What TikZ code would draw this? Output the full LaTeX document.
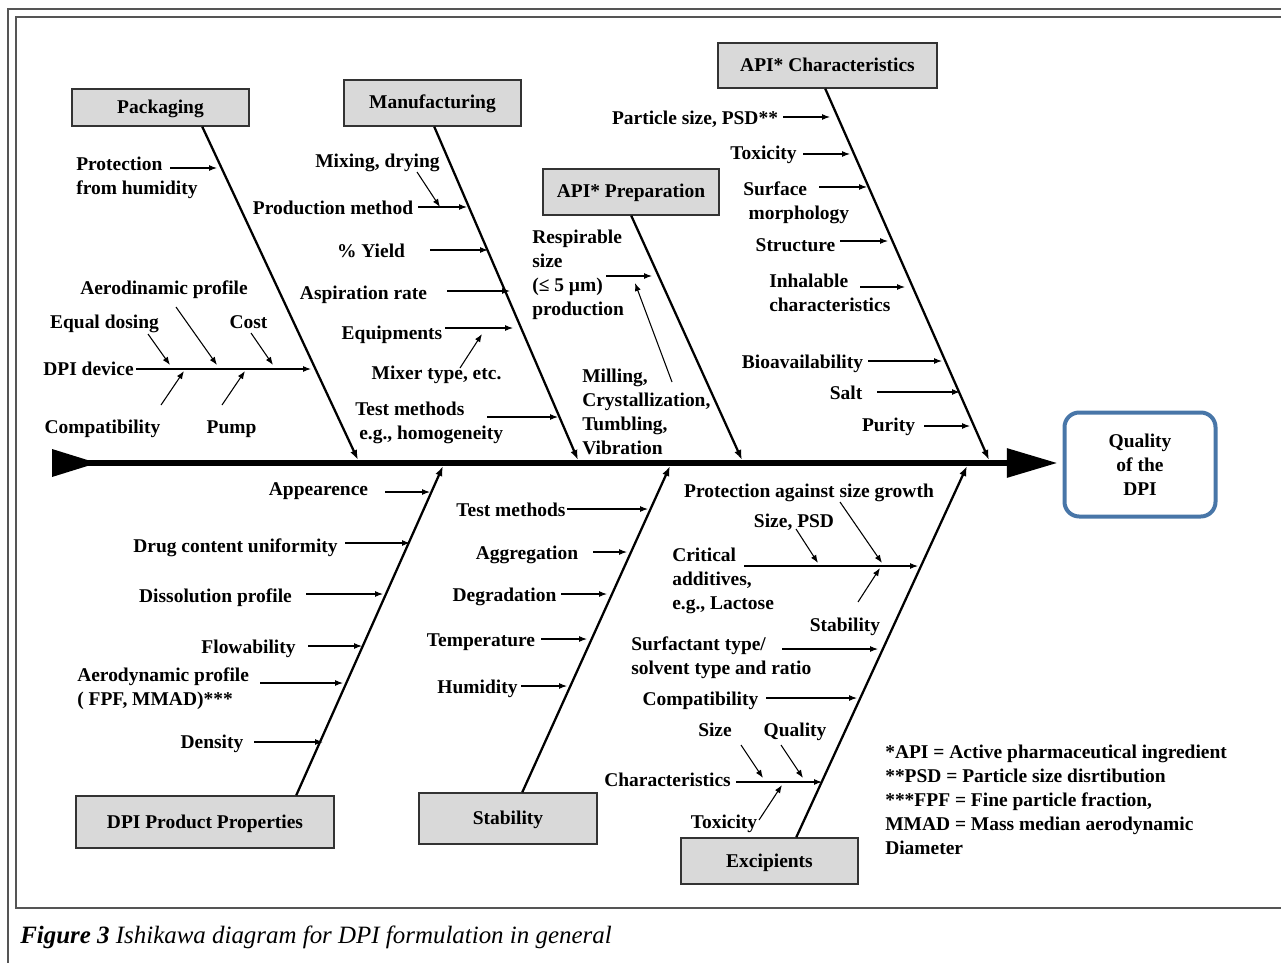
\documentclass[tikz,border=0pt]{standalone}
\usepackage{fontspec}
\setmainfont{Liberation Serif}
\usetikzlibrary{arrows.meta,calc}
\definecolor{boxgray}{RGB}{217,217,217}
\definecolor{qblue}{RGB}{72,118,168}
\definecolor{framegray}{RGB}{85,85,85}
\newcommand\subarrow[3]{\coordinate (#1s) at (#2); \coordinate (#1e) at (#3); \draw[sub] (#1s) -- (#1e);}
\begin{document}
\begin{tikzpicture}[x=0.75pt,y=-0.75pt,
  lbl/.style={font=\bfseries\fontsize{14.6pt}{18pt}\selectfont, inner sep=0pt, yshift=-5.6pt},
  lblc/.style={lbl, anchor=base},
  lbll/.style={lbl, anchor=base west, align=left},
  catbox/.style={draw=black!80, line width=1.1pt, fill=boxgray, font=\bfseries\fontsize{14.6pt}{18pt}\selectfont, inner sep=0pt, text height=9pt, text depth=0pt},
  qbox/.style={draw=qblue, line width=3pt, rounded corners=11pt, align=center, inner sep=0pt, font=\bfseries\fontsize{14.6pt}{18pt}\selectfont},
  sub/.style={line width=0.8pt, -{Latex[length=6pt,width=4.5pt]}},
  bone/.style={line width=1.7pt, -{Latex[length=7.5pt,width=5.5pt]}},
  spine/.style={line width=4.5pt, -{Triangle[length=38pt,width=21pt]}},
  frame/.style={draw=framegray, line width=1.2pt}]
\useasboundingbox (0,0) rectangle (1281,963);
% frames
\draw[frame] (8,963) -- (8,9) -- (1281,9);
\draw[frame] (1281,908) -- (16,908) -- (16,17) -- (1281,17);

% category boxes
\node[catbox, minimum width=177*0.75pt, minimum height=37*0.75pt] (pack) at (160.5,107.5) {Packaging};
\node[catbox, minimum width=177*0.75pt, minimum height=46*0.75pt] (manu) at (432.5,103) {Manufacturing};
\node[catbox, minimum width=219*0.75pt, minimum height=45*0.75pt] (char) at (827.5,65.5) {API* Characteristics};
\node[catbox, minimum width=176*0.75pt, minimum height=46*0.75pt] (prep) at (631,192) {API* Preparation};
\node[catbox, minimum width=258*0.75pt, minimum height=52*0.75pt] (dpip) at (205,822) {DPI Product Properties};
\node[catbox, minimum width=178*0.75pt, minimum height=51*0.75pt] (stab) at (508,818.5) {Stability};
\node[catbox, minimum width=177*0.75pt, minimum height=46*0.75pt] (exc) at (769.5,861) {Excipients};
\node[qbox, minimum width=151*0.75pt, minimum height=104*0.75pt] (q) at (1140,464.5) {Quality\\of the\\DPI};

% spine
\coordinate (tail) at (52,463);
\fill (52,449) -- (97,463) -- (52,477) -- cycle;
\draw[spine, shorten >=3.75pt] (tail) -- (tail -| q.west);

% branch ends on spine
\coordinate (bPack) at (358,460);
\coordinate (bManu) at (578,460);
\coordinate (bPrep) at (742,460);
\coordinate (bChar) at (989,460);
\coordinate (bDPI) at (443,466);
\coordinate (bStab) at (670,466);
\coordinate (bExc) at (967,466);
\draw[bone] ($(pack.south west)+(131,0)$) -- (bPack);
\draw[bone] ($(manu.south west)+(91,0)$) -- (bManu);
\draw[bone] ($(prep.south west)+(89,0)$) -- (bPrep);
\draw[bone] ($(char.south west)+(108,0)$) -- (bChar);
\draw[bone] ($(dpip.north west)+(221,0)$) -- (bDPI);
\draw[bone] ($(stab.north west)+(104,0)$) -- (bStab);
\draw[bone] ($(exc.north west)+(116,0)$) -- (bExc);

% Packaging
\node[lbll] (prot) at (76,187) {Protection\\from humidity};
\node[lblc] (aero) at (164,287) {Aerodinamic profile};
\node[lblc] (eqd) at (104.5,321) {Equal dosing};
\node[lblc] (cost) at (248.5,321) {Cost};
\node[lblc] (dpidev) at (88.5,368) {DPI device};
\node[lblc] (compat) at (102.5,426) {Compatibility};
\node[lblc] (pump) at (231.5,426) {Pump};
\subarrow{a1}{170,168}{217,168}
\subarrow{dd}{136,369}{311,369}
\subarrow{a2}{148,334}{170,365}
\subarrow{a3}{176,307}{217,365}
\subarrow{a4}{251,333}{273,365}
\subarrow{a5}{161,405}{184,371}
\subarrow{a6}{222,405}{245,371}

% Manufacturing
\node[lblc] (mix) at (377.5,160) {Mixing, drying};
\node[lblc] (prod) at (333,207) {Production method};
\node[lblc] (yield) at (371,250) {\% Yield};
\node[lblc] (asp) at (363.5,292) {Aspiration rate};
\node[lblc] (equip) at (392,332) {Equipments};
\node[lblc] (mixer) at (436.5,372) {Mixer type, etc.};
\node[lbll] (testm) at (355,432) {Test methods\\\hspace{3pt}e.g., homogeneity};
\subarrow{m1}{417,172}{440,207}
\subarrow{m2}{418,207}{467,207}
\subarrow{m3}{430,250}{488,250}
\subarrow{m4}{447,291}{510,291}
\subarrow{m5}{445,328}{513,328}
\subarrow{m6}{460,368}{482,334}
\subarrow{m7}{487,417}{558,417}

% API Preparation
\node[lbll] (resp) at (532,308) {Respirable\\size\\(≤ 5 µm)\\production};
\node[lbll] (mill) at (582,447) {Milling,\\Crystallization,\\Tumbling,\\Vibration};
\subarrow{p1}{606,276}{652,276}
\subarrow{p2}{672,382}{635,283}

% API Characteristics
\node[lblc] (psize) at (695,117) {Particle size, PSD**};
\node[lblc] (tox) at (763.5,152) {Toxicity};
\node[lbll] (surf) at (743,212) {Surface\\\hspace{4pt}morphology};
\node[lblc] (struct) at (795.5,244) {Structure};
\node[lbll] (inhal) at (769,304) {Inhalable\\characteristics};
\node[lblc] (bio) at (802.5,361) {Bioavailability};
\node[lblc] (salt) at (846,392) {Salt};
\node[lblc] (pur) at (888.5,424) {Purity};
\subarrow{c1}{783,117}{830,117}
\subarrow{c2}{803,154}{850,154}
\subarrow{c3}{819,187}{867,187}
\subarrow{c4}{840,241}{888,241}
\subarrow{c5}{860,287}{905,287}
\subarrow{c6}{868,361}{942,361}
\subarrow{c7}{877,392}{960,392}
\subarrow{c8}{924,426}{970,426}

% DPI Product Properties
\node[lblc] (app) at (318.5,488) {Appearence};
\node[lblc] (drug) at (235.5,545) {Drug content uniformity};
\node[lblc] (diss) at (215.5,595) {Dissolution profile};
\node[lblc] (flow) at (248.5,646) {Flowability};
\node[lbll] (aerop) at (77,698) {Aerodynamic profile\\( FPF, MMAD)***};
\node[lblc] (dens) at (212,741) {Density};
\subarrow{d1}{385,492}{430,492}
\subarrow{d2}{345,543}{410,543}
\subarrow{d3}{306,594}{383,594}
\subarrow{d4}{308,646}{362,646}
\subarrow{d5}{260,683}{343,683}
\subarrow{d6}{254,742}{323,742}

% Stability
\node[lblc] (stest) at (511,509) {Test methods};
\node[lblc] (aggr) at (527,552) {Aggregation};
\node[lblc] (degr) at (504.5,594) {Degradation};
\node[lblc] (temp) at (481,639) {Temperature};
\node[lblc] (hum) at (477.5,686) {Humidity};
\subarrow{s1}{567,509}{648,509}
\subarrow{s2}{593,552}{627,552}
\subarrow{s3}{561,594}{607,594}
\subarrow{s4}{541,639}{587,639}
\subarrow{s5}{521,686}{567,686}

% Excipients
\node[lblc] (psg) at (809,490) {Protection against size growth};
\node[lblc] (spsd) at (794,520) {Size, PSD};
\node[lbll] (crit) at (672,602) {Critical\\additives,\\e.g., Lactose};
\node[lblc] (estab) at (845,624) {Stability};
\node[lbll] (surfact) at (631,667) {Surfactant type/\\solvent type and ratio};
\node[lblc] (ecomp) at (700.5,698) {Compatibility};
\node[lblc] (esize) at (715,729) {Size};
\node[lblc] (equal) at (795,729) {Quality};
\node[lblc] (echar) at (667.5,779) {Characteristics};
\node[lblc] (etox) at (724,821) {Toxicity};
\subarrow{e0}{744,566}{918,566}
\subarrow{e1}{840,502}{882,563}
\subarrow{e2}{796,529}{818,563}
\subarrow{e3}{858,602}{880,568}
\subarrow{e4}{782,649}{878,649}
\subarrow{e5}{766,698}{857,698}
\subarrow{ec}{736,782}{822,782}
\subarrow{e6}{741,745}{763,778}
\subarrow{e7}{781,745}{803,778}
\subarrow{e8}{759,820}{782,785}

% legend
\node[lbll] (legend) at (885,847) {*API = Active pharmaceutical ingredient\\**PSD = Particle size disrtibution\\***FPF = Fine particle fraction,\\MMAD = Mass median aerodynamic\\Diameter};

% caption
\node[anchor=base west, inner sep=0pt, font=\fontsize{18.7pt}{22pt}\selectfont\itshape] (cap) at (20,943) {\textbf{Figure 3} Ishikawa diagram for DPI formulation in general};
\end{tikzpicture}
\end{document}
